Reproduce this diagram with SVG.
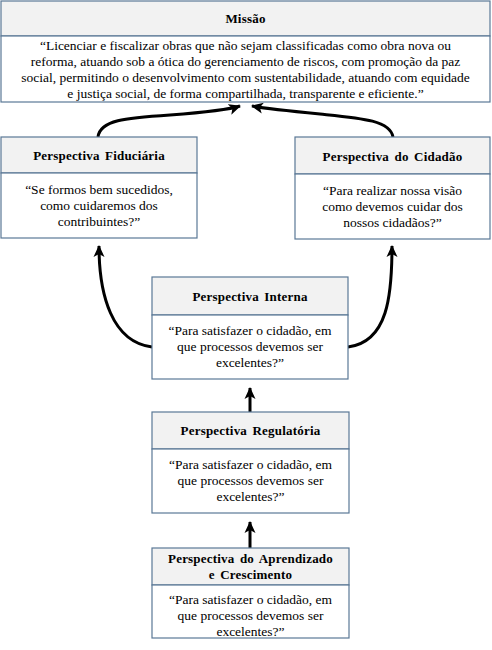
<svg xmlns="http://www.w3.org/2000/svg" width="492" height="650" viewBox="0 0 492 650">
<defs>
<style>
.box{fill:#ffffff;stroke:#5a7896;stroke-width:1.2}
.hd{fill:#f2f2f2;stroke:#5a7896;stroke-width:1.2}
text{font-family:'Liberation Serif','Times New Roman',serif;fill:#000;text-anchor:middle}
.t{font-size:13.5px}
.b{font-size:13px;font-weight:bold;word-spacing:2px;letter-spacing:0.2px}
.c{fill:none;stroke:#000;stroke-width:3}
</style>
<marker id="ah" markerUnits="userSpaceOnUse" markerWidth="12" markerHeight="12" viewBox="0 0 12 12" refX="11" refY="6" orient="auto">
<path d="M0,0.5 L12,6 L0,11.5 L3,6 Z" fill="#000"/>
</marker>
</defs>
<rect width="492" height="650" fill="#fff"/>
<g id="connectors">
<path class="c" d="M152,347 C112,342 99,295 99,246" marker-end="url(#ah)"/>
<path class="c" d="M348,347 C388,342 392,295 392,246" marker-end="url(#ah)"/>
<path class="c" d="M98,137 C100,120 125,118 170,115 C210,112 228,110 240,106" marker-end="url(#ah)"/>
<path class="c" d="M393,137 C390,120 360,118 320,114 C280,110 262,108 252,106" marker-end="url(#ah)"/>
<path class="c" d="M250,412 L250,388" marker-end="url(#ah)"/>
<path class="c" d="M250,548 L250,522" marker-end="url(#ah)"/>
</g>
<g id="missao">
<rect class="hd" x="1" y="1" width="489" height="35"/>
<rect class="box" x="1" y="36" width="489" height="66"/>
<text class="b" x="245.5" y="23">Missão</text>
<text class="t" x="245.5" y="50">“Licenciar e fiscalizar obras que não sejam classificadas como obra nova ou</text>
<text class="t" x="245.5" y="66">reforma, atuando sob a ótica do gerenciamento de riscos, com promoção da paz</text>
<text class="t" x="245.5" y="82">social, permitindo o desenvolvimento com sustentabilidade, atuando com equidade</text>
<text class="t" x="245.5" y="98">e justiça social, de forma compartilhada, transparente e eficiente.”</text>
</g>
<g id="fiduciaria">
<rect class="hd" x="1" y="137" width="196" height="36"/>
<rect class="box" x="1" y="173" width="196" height="65"/>
<text class="b" x="99" y="160">Perspectiva Fiduciária</text>
<text class="t" x="99" y="194">“Se formos bem sucedidos,</text>
<text class="t" x="99" y="210">como cuidaremos dos</text>
<text class="t" x="99" y="226">contribuintes?”</text>
</g>
<g id="cidadao">
<rect class="hd" x="295" y="137" width="195" height="37"/>
<rect class="box" x="295" y="174" width="195" height="65"/>
<text class="b" x="392.5" y="161">Perspectiva do Cidadão</text>
<text class="t" x="392.5" y="195">“Para realizar nossa visão</text>
<text class="t" x="392.5" y="211">como devemos cuidar dos</text>
<text class="t" x="392.5" y="227">nossos cidadãos?”</text>
</g>
<g id="interna">
<rect class="hd" x="152" y="277" width="196" height="38"/>
<rect class="box" x="152" y="315" width="196" height="64"/>
<text class="b" x="250" y="301">Perspectiva Interna</text>
<text class="t" x="250" y="335">“Para satisfazer o cidadão, em</text>
<text class="t" x="250" y="351">que processos devemos ser</text>
<text class="t" x="250" y="367">excelentes?”</text>
</g>
<g id="regulatoria">
<rect class="hd" x="152" y="412" width="197" height="37"/>
<rect class="box" x="152" y="449" width="197" height="64"/>
<text class="b" x="250.5" y="435">Perspectiva Regulatória</text>
<text class="t" x="250.5" y="469">“Para satisfazer o cidadão, em</text>
<text class="t" x="250.5" y="485">que processos devemos ser</text>
<text class="t" x="250.5" y="501">excelentes?”</text>
</g>
<g id="aprendizado">
<rect class="hd" x="152" y="548" width="197" height="37"/>
<rect class="box" x="152" y="585" width="197" height="53"/>
<text class="b" x="250.5" y="563">Perspectiva do Aprendizado</text>
<text class="b" x="250.5" y="579">e Crescimento</text>
<text class="t" x="250.5" y="604">“Para satisfazer o cidadão, em</text>
<text class="t" x="250.5" y="620">que processos devemos ser</text>
<text class="t" x="250.5" y="636">excelentes?”</text>
</g>
</svg>
